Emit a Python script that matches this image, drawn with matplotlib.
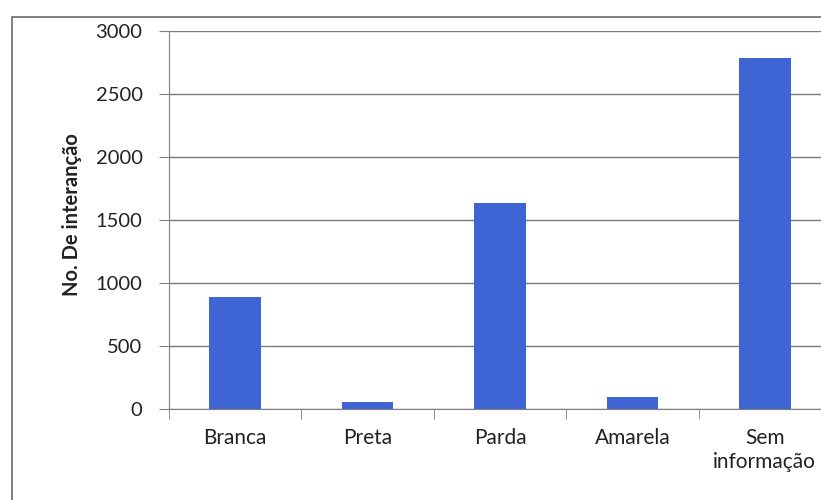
import matplotlib.pyplot as plt
from matplotlib.patches import Rectangle

# data
categorias = ['Branca', 'Preta', 'Parda', 'Amarela', 'Sem\ninformação']
valores = [890, 55, 1635, 95, 2785]
yticks = [0, 500, 1000, 1500, 2000, 2500, 3000]

plt.rcParams['font.family'] = ['Lato', 'DejaVu Sans']

fig = plt.figure(figsize=(8.21, 5.0), dpi=100)
# the right end of the plot is cut off in the reference, so the axes run past the figure
ax = fig.add_axes([169/821, 91/500, 662/821, 378/500])

x = range(len(categorias))
ax.bar(x, valores, width=0.39, color='#3f64d3', zorder=3)

ax.set_xlim(-0.5, 4.5)
ax.set_ylim(0, 3000)
ax.set_yticks(yticks)
ax.set_yticklabels([str(v) for v in yticks], fontsize=14.5, color='#222222')
ax.set_xticks([i for i in x])
ax.set_xticklabels(categorias, fontsize=15, color='#222222', linespacing=1.25)
ax.tick_params(axis='x', length=0, pad=14)
ax.set_xticks([i - 0.5 for i in range(len(categorias) + 1)], minor=True)
ax.tick_params(axis='x', which='minor', length=7, color='#808080', direction='out')
ax.tick_params(axis='y', length=7, color='#808080', pad=12)

ax.grid(axis='y', color='#7a7a7a', linewidth=1.0, zorder=0)
for s in ['top', 'right']:
    ax.spines[s].set_visible(False)
ax.spines['left'].set_color('#808080')
ax.spines['bottom'].set_color('#808080')

ax.set_ylabel('No. De interanção', fontsize=14.5, fontweight='bold', color='#222222')
ax.yaxis.set_label_coords(-0.132, 0.515)

# outer chart frame
fig.add_artist(Rectangle((12/821, -0.02), 1.0, 1 - 17/500 + 0.02, transform=fig.transFigure,
                         fill=False, edgecolor='#6a6a6a', linewidth=1.2))

fig.savefig('out.png', dpi=100)
